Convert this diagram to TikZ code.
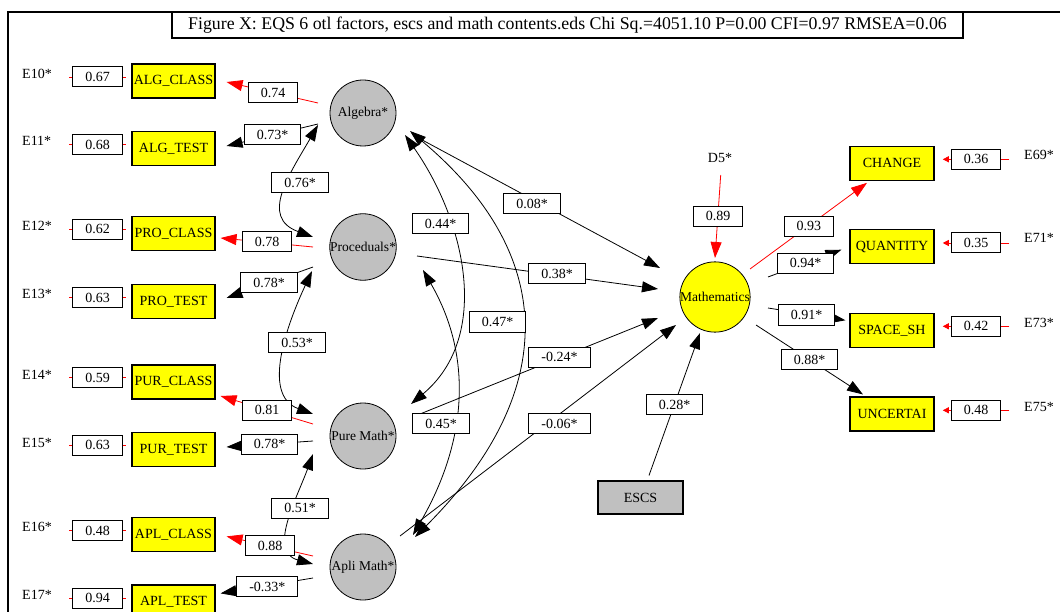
\documentclass[tikz,border=0pt]{standalone}
\usepackage{fontspec}
\setmainfont{Liberation Serif}
\usetikzlibrary{arrows.meta, calc, backgrounds}
\definecolor{eqsYellow}{HTML}{FFFF00}
\definecolor{eqsGrey}{HTML}{C0C0C0}
\definecolor{eqsRed}{HTML}{FF0000}

\begin{document}
\begin{tikzpicture}[x=1pt, y=-1pt, >={Triangle[length=16pt, width=11pt]},
  font=\fontsize{14}{16}\selectfont,
  coef/.style={draw, line width=1pt, fill=white, inner xsep=12.5pt, inner ysep=0pt, minimum height=20pt},
  obs/.style={draw, line width=1.1pt, fill=eqsYellow, minimum width=83pt, minimum height=34pt, inner xsep=1pt},
  latent/.style={circle, draw, line width=0.8pt, fill=eqsGrey, minimum size=66pt, inner sep=0pt,
    font=\fontsize{13.5}{15}\selectfont},
  load/.style={line width=0.8pt, ->},
  redload/.style={line width=0.8pt, eqsRed, ->},
  corr/.style={line width=0.8pt, <->},
  errtick/.style={line width=0.8pt, eqsRed},
  errarrow/.style={line width=0.8pt, eqsRed, -{Triangle[length=6pt, width=6pt]}}]
  \useasboundingbox (0,0) rectangle (1060,612);
  % frame and title
  \draw[line width=1.5pt] (8,620) -- (8,12) -- (1070,12);
  \node[draw, line width=1.1pt, fill=white, minimum width=791pt, minimum height=26pt,
    font=\fontsize{17.8}{20}\selectfont] (title) at (567.5,25)
    {Figure X: EQS 6 otl factors, escs and math contents.eds Chi Sq.=4051.10 P=0.00 CFI=0.97 RMSEA=0.06};

  % left indicators with their errors
  \foreach \k/\nm/\ev/\ye/\yv/\yo in {10/ALG\_CLASS/0.67/73.7/77/81, 11/ALG\_TEST/0.68/141.3/144.7/148.7,
      12/PRO\_CLASS/0.62/225.8/229.2/233.6, 13/PRO\_TEST/0.63/294/297.5/301.6,
      14/PUR\_CLASS/0.59/375/377.8/382, 15/PUR\_TEST/0.63/442.7/445.4/449.6,
      16/APL\_CLASS/0.48/527/530.6/534.4, 17/APL\_TEST/0.94/594.8/598.2/602}{
    \node[anchor=west, inner sep=0pt] (e\k) at (22,\ye) {E\k*};
    \node[coef] (v\k) at (97.5,\yv) {\ev};
    \node[obs] (o\k) at (173.5,\yo) {\nm};
  }
  % right indicators with their errors
  \foreach \k/\nm/\ev/\ye/\yv/\yo in {69/CHANGE/0.36/155/159.3/163.3, 71/QUANTITY/0.35/238.3/243/246.7,
      73/SPACE\_SH/0.42/323.3/326.3/330.3, 75/UNCERTAI/0.48/406.7/410.3/414}{
    \node[anchor=west, inner sep=0pt] (e\k) at (1024,\ye) {E\k*};
    \node[coef] (w\k) at (976,\yv) {\ev};
    \node[obs, minimum width=84pt] (o\k) at (892,\yo) {\nm};
  }

  % factors
  \node[latent] (alg) at (363,113) {Algebra*};
  \node[latent] (proc) at (363,247) {Proceduals*};
  \node[latent] (pure) at (363,436) {Pure Math*};
  \node[latent] (apli) at (363,567) {Apli Math*};
  \node[latent, fill=eqsYellow, minimum size=67pt] (math) at (715,297) {Mathematics};
  \node (d5) at (720,158) {D5*};
  \node[draw, line width=1.1pt, fill=eqsGrey, minimum width=85pt, minimum height=33pt] (escs) at (640.5,497.5) {ESCS};

  \begin{scope}[on background layer]
    \foreach \k in {10,...,17}
      \draw[errtick] ([xshift=-3pt]v\k.west) -- ([xshift=3pt]v\k.east);
    \foreach \k in {69,71,73,75}
      \draw[errarrow] ([xshift=8pt]w\k.east) -- ([xshift=-8pt]w\k.west);
    % loadings
    \draw[redload] ($(alg)+(-45,-10)$) -- ($(o10.east)+(11,1)$);
    \draw[load] ($(alg)+(-45,11)$) -- ($(o11.east)+(11,-2.7)$);
    \draw[redload] ($(proc)+(-50,0)$) -- ($(o12.east)+(5,4.4)$);
    \draw[load] ($(proc)+(-50,20)$) -- ($(o13.east)+(11,-3.6)$);
    \draw[redload] ($(pure)+(-50,-12)$) -- ($(o14.east)+(5,14)$);
    \draw[load] ($(pure)+(-50,5)$) -- ($(o15.east)+(11,-2.6)$);
    \draw[redload] ($(apli)+(-50,-11)$) -- ($(o16.east)+(11,2)$);
    \draw[load] ($(apli)+(-50,11)$) -- ($(o17.east)+(5,-8.6)$);
    % factor correlations
    \draw[corr] ($(alg)+(-45,12)$) to[out=240, in=160, looseness=1.3] ($(proc)+(-50,-10)$);
    \draw[corr] ($(proc)+(-51,24)$) to[out=245, in=160] ($(pure)+(-50,-22)$);
    \draw[corr] ($(pure)+(-50,18)$) to[out=250, in=165, looseness=1.1] ($(apli)+(-50,-3)$);
    \draw[corr] ($(alg)+(42,22)$) to[out=305, in=40] ($(pure)+(48,-32)$);
    \draw[corr] ($(alg)+(47,18)$) to[out=320, in=45, looseness=1.25] ($(apli)+(52,-30)$);
    \draw[corr] ($(proc)+(60,23)$) to[out=300, in=60] ($(apli)+(50,-32)$);
    % structural paths
    \draw[load] ($(alg)+(50,22)$) -- ($(math)+(-55,-29)$);
    \draw[load] ($(proc)+(54,9)$) -- ($(math)+(-57,-8)$);
    \draw[load] ($(pure)+(57,-22)$) -- ($(math)+(-57,21)$);
    \draw[load] ($(apli)+(37,-31)$) -- ($(math)+(-39,28)$);
    \draw[load] ($(escs.north)+(8.5,-5)$) -- ($(math)+(-15,36)$);
    \draw[redload] ($(d5)+(0.7,17)$) -- ($(math)+(0,-39)$);
    \draw[redload] ($(math)+(35,-28)$) -- ($(o69.south)+(-25,2)$);
    \draw[load] ($(math)+(53,-20)$) -- ($(o71.west)+(-8,3)$);
    \draw[load] ($(math)+(53,11)$) -- ($(o73.west)+(-4,-10)$);
    \draw[load] ($(math)+(41,28)$) -- ($(o75.north)+(-29,-2)$);
  \end{scope}

  % coefficients
  \node[coef] (c074) at (273,93) {0.74};
  \node[coef] (c073) at (272.5,134.5) {0.73*};
  \node[coef] (c076) at (300,182.5) {0.76*};
  \node[coef] (c078a) at (267,242) {0.78};
  \node[coef] (c078b) at (269,283) {0.78*};
  \node[coef] (c053) at (297,342.5) {0.53*};
  \node[coef] (c081) at (267,410) {0.81};
  \node[coef] (c078c) at (269.5,444) {0.78*};
  \node[coef] (c051) at (300,508) {0.51*};
  \node[coef] (c088a) at (270,545.6) {0.88};
  \node[coef] (c033) at (267.4,586.5) {-0.33*};
  \node[coef] (c044) at (440.7,223.7) {0.44*};
  \node[coef] (c047) at (497.5,322) {0.47*};
  \node[coef] (c045) at (441,423.5) {0.45*};
  \node[coef] (c008) at (532,204) {0.08*};
  \node[coef] (c038) at (557,273.5) {0.38*};
  \node[coef] (c024) at (559.5,357) {-0.24*};
  \node[coef] (c006) at (559.5,423.7) {-0.06*};
  \node[coef] (c028) at (674.7,404.5) {0.28*};
  \node[coef] (c089) at (718,216.3) {0.89};
  \node[coef] (c093) at (808.8,226.3) {0.93};
  \node[coef] (c094) at (805.5,263.3) {0.94*};
  \node[coef] (c091) at (806.7,315) {0.91*};
  \node[coef] (c088b) at (809.5,359.7) {0.88*};
\end{tikzpicture}
\end{document}
